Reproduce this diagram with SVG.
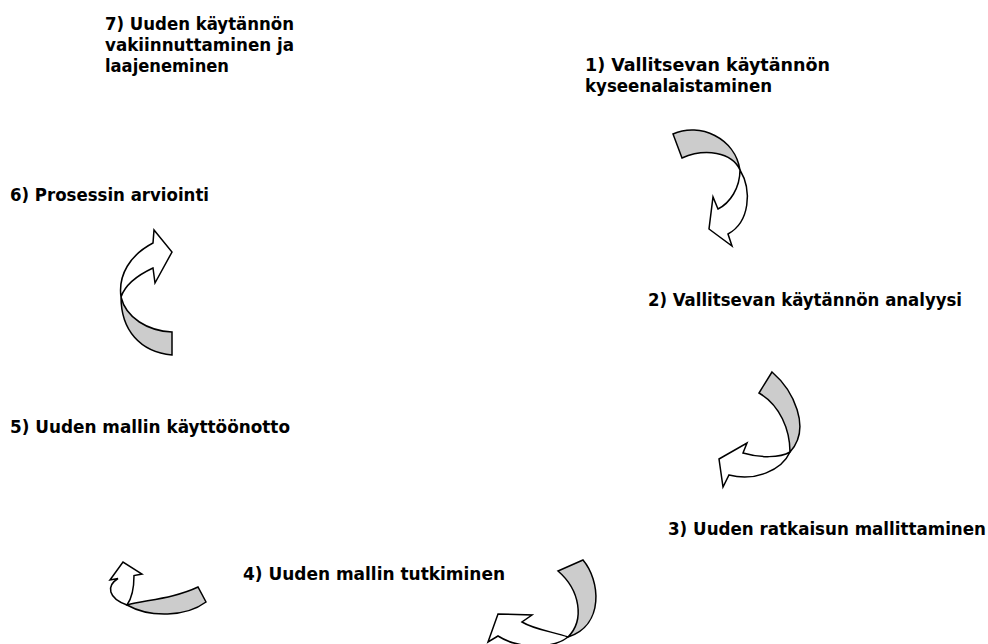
<svg xmlns="http://www.w3.org/2000/svg" width="988" height="644" viewBox="0 0 988 644">
  <style>
    .lbl { font-family: "DejaVu Sans Condensed", "DejaVu Sans", sans-serif; font-weight: bold; font-size: 17px; fill: #000; }
    .back { fill: #cccccc; stroke: #000; stroke-width: 1.5; stroke-linejoin: miter; }
    .front { fill: #ffffff; stroke: #000; stroke-width: 1.5; stroke-linejoin: miter; }
  </style>
  <rect width="988" height="644" fill="#fff"/>

  <!-- step labels -->
  <g id="step7">
    <text class="lbl" x="105" y="30" textLength="189" lengthAdjust="spacingAndGlyphs">7) Uuden käytännön</text>
    <text class="lbl" x="105" y="51" textLength="189" lengthAdjust="spacingAndGlyphs">vakiinnuttaminen ja</text>
    <text class="lbl" x="105" y="72" textLength="124" lengthAdjust="spacingAndGlyphs">laajeneminen</text>
  </g>
  <g id="step1">
    <text class="lbl" x="585" y="71" textLength="245" lengthAdjust="spacingAndGlyphs">1) Vallitsevan käytännön</text>
    <text class="lbl" x="585" y="92" textLength="187" lengthAdjust="spacingAndGlyphs">kyseenalaistaminen</text>
  </g>
  <g id="step6">
    <text class="lbl" x="10" y="201" textLength="199" lengthAdjust="spacingAndGlyphs">6) Prosessin arviointi</text>
  </g>
  <g id="step2">
    <text class="lbl" x="648" y="306" textLength="314" lengthAdjust="spacingAndGlyphs">2) Vallitsevan käytännön analyysi</text>
  </g>
  <g id="step5">
    <text class="lbl" x="10" y="433" textLength="280" lengthAdjust="spacingAndGlyphs">5) Uuden mallin käyttöönotto</text>
  </g>
  <g id="step3">
    <text class="lbl" x="668" y="535" textLength="318" lengthAdjust="spacingAndGlyphs">3) Uuden ratkaisun mallittaminen</text>
  </g>
  <g id="step4">
    <text class="lbl" x="243" y="580" textLength="262" lengthAdjust="spacingAndGlyphs">4) Uuden mallin tutkiminen</text>
  </g>

  <!-- curved arrows between the steps: grey underside + white front with head -->
  <g id="connectors">
    <g id="arrow-1-2">
      <path class="back" d="M673,134 C700,122 735,138 740,170 C732,152 705,148 682,158 Z"/>
      <path class="front" d="M740,170 C752,190 750,222 728,234 L732,246 L709,229 L713,197 L718,209 C730,203 740,188 740,170 Z"/>
    </g>
    <g id="arrow-2-3">
      <path class="back" d="M772,372 C793,390 812,428 790,452 C790,430 780,405 759,393 Z"/>
      <path class="front" d="M790,452 C782,470 755,482 729,475 L723,487 L719,459 L747,443 L743,453 C760,458 780,458 790,452 Z"/>
    </g>
    <g id="arrow-3-4">
      <path class="back" d="M583,560 C600,580 605,625 568,637 C585,620 580,590 558,571 Z"/>
      <path class="front" d="M568,637 C555,648 520,650 498,636 L488,642 L498,614 L532,615 L522,622 C535,630 555,632 568,637 Z"/>
    </g>
    <g id="arrow-4-5">
      <path class="back" d="M127,605 C147,600 175,598 198,587 L206,602 C186,617 150,618 127,605 Z"/>
      <path class="front" d="M127,605 C108,598 106,586 118,578.5 L110,580 L123,562 L142,574 L134,575.5 C134,588 132,598 127,605 Z"/>
    </g>
    <g id="arrow-5-6">
      <path class="back" d="M121,297 C126,318 148,331 172,332 L172,355 C140,352 121,330 121,297 Z"/>
      <path class="front" d="M121,297 C118,275 130,255 153,243 L154,230 L172,252 L155,283 L153,268 C138,275 125,285 121,297 Z"/>
    </g>
  </g>
</svg>
